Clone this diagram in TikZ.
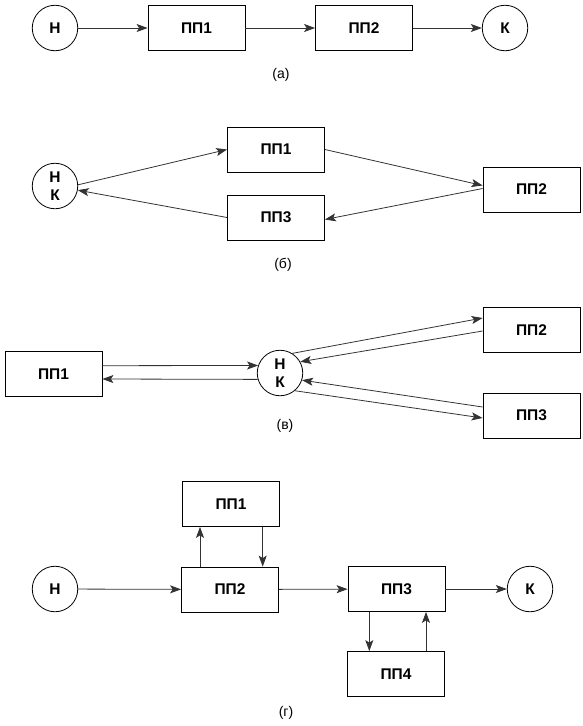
\documentclass[tikz,border=0pt]{standalone}
\usepackage{fontspec}
\setmainfont{Liberation Sans}
\usetikzlibrary{arrows.meta,calc}
\begin{document}
\begin{tikzpicture}[x=1pt,y=-1pt,
  box/.style={draw=black, line width=0.8pt, minimum width=97pt, minimum height=45pt, inner sep=0pt, font=\fontsize{15.5}{18}\selectfont\bfseries},
  term/.style={draw=black, circle, line width=0.8pt, minimum size=45.5pt, inner sep=0pt, align=center, font=\fontsize{15.5}{18}\selectfont\bfseries},
  conn/.style={draw=black!80, line width=0.8pt, -{Stealth[length=11pt,width=8pt,inset=2.5pt]}},
  caplabel/.style={font=\fontsize{14}{16}\selectfont}]
\useasboundingbox (0,0) rectangle (582,726);

% (a)
\node[term] (a-n) at (55,28) {Н};
\node[box] (a-p1) at (196.5,28) {ПП1};
\node[box] (a-p2) at (364,28) {ПП2};
\node[term] (a-k) at (505,28) {К};
\node[caplabel] (a-l) at (281,75) {(а)};
\draw[conn] (a-n) -- (a-p1);
\draw[conn] (a-p1) -- (a-p2);
\draw[conn] (a-p2) -- (a-k);

% (b)
\node[term] (b-nk) at (55,186) {Н\\К};
\node[box] (b-p1) at (276,149.5) {ПП1};
\node[box] (b-p3) at (276,217.5) {ПП3};
\node[box] (b-p2) at (531.5,189.5) {ПП2};
\node[caplabel] (b-l) at (283,265) {(б)};
\draw[conn] (b-nk.3) -- (b-p1.west);
\draw[conn] (b-p1.east) -- ($(b-p2.west)+(0,-4)$);
\draw[conn] ($(b-p2.west)+(0,-1)$) -- ($(b-p3.east)+(0,2)$);
\draw[conn] (b-p3.west) -- (b-nk);

% (v)
\node[box] (c-p1) at (53.5,374) {ПП1};
\node[term] (c-nk) at (280,373) {Н\\К};
\node[box] (c-p2) at (531.5,330) {ПП2};
\node[box] (c-p3) at (531.5,415.5) {ПП3};
\node[caplabel] (c-l) at (285,426) {(в)};
\draw[conn] ($(c-p1.east)+(0,-8.3)$) -- (c-nk.161.5);
\draw[conn] (c-nk.-164.9) -- ($(c-p1.east)+(0,5)$);
\draw[conn] (c-nk.58) -- ($(c-p2.west)+(0,-12)$);
\draw[conn] ($(c-p2.west)+(0,1)$) -- (c-nk.29);
\draw[conn] ($(c-p3.west)+(0,-8.5)$) -- (c-nk.-18);
\draw[conn] (c-nk.-50) -- ($(c-p3.west)+(0,2.5)$);

% (g)
\node[term] (d-n) at (55,589) {Н};
\node[box] (d-p1) at (231,504) {ПП1};
\node[box] (d-p2) at (230,589.5) {ПП2};
\node[box] (d-p3) at (396.5,589) {ПП3};
\node[box] (d-p4) at (396,674) {ПП4};
\node[term] (d-k) at (530,589) {К};
\node[caplabel] (d-l) at (286,713) {(г)};
\coordinate (x1) at (200,0);
\coordinate (x2) at (262.7,0);
\coordinate (x3) at (369.3,0);
\coordinate (x4) at (426,0);
\draw[conn] (d-n) -- (d-p2);
\draw[conn] (d-p2) -- (d-p3);
\draw[conn] (d-p3) -- (d-k);
\draw[conn] (d-p2.north -| x1) -- (d-p1.south -| x1);
\draw[conn] (d-p1.south -| x2) -- (d-p2.north -| x2);
\draw[conn] (d-p3.south -| x3) -- (d-p4.north -| x3);
\draw[conn] (d-p4.north -| x4) -- (d-p3.south -| x4);
\end{tikzpicture}
\end{document}
